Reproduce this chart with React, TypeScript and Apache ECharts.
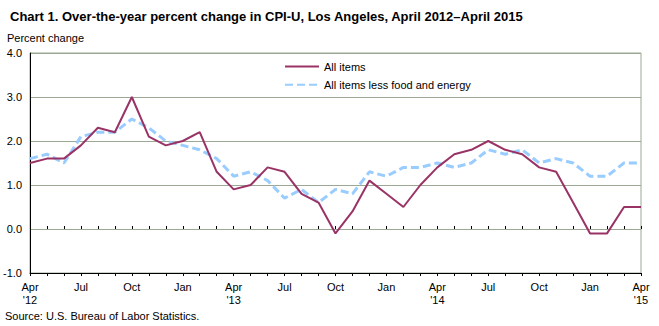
import React, { useEffect, useRef } from "react";
import * as echarts from "echarts";

const months: string[] = [
  "Apr\n'12", "May", "Jun", "Jul", "Aug", "Sep", "Oct", "Nov", "Dec", "Jan", "Feb", "Mar",
  "Apr\n'13", "May", "Jun", "Jul", "Aug", "Sep", "Oct", "Nov", "Dec", "Jan", "Feb", "Mar",
  "Apr\n'14", "May", "Jun", "Jul", "Aug", "Sep", "Oct", "Nov", "Dec", "Jan", "Feb", "Mar",
  "Apr\n'15",
];

const allItems: number[] = [
  1.5, 1.6, 1.6, 1.9, 2.3, 2.2, 3.0, 2.1, 1.9, 2.0, 2.2, 1.3,
  0.9, 1.0, 1.4, 1.3, 0.8, 0.6, -0.1, 0.4, 1.1, 0.8, 0.5, 1.0,
  1.4, 1.7, 1.8, 2.0, 1.8, 1.7, 1.4, 1.3, 0.6, -0.1, -0.1, 0.5,
  0.5,
];

const coreItems: number[] = [
  1.6, 1.7, 1.5, 2.1, 2.2, 2.2, 2.5, 2.3, 2.0, 1.9, 1.8, 1.6,
  1.2, 1.3, 1.1, 0.7, 0.9, 0.6, 0.9, 0.8, 1.3, 1.2, 1.4, 1.4,
  1.5, 1.4, 1.5, 1.8, 1.7, 1.8, 1.5, 1.6, 1.5, 1.2, 1.2, 1.5,
  1.5,
];

const seriesNames: string[] = ["All items", "All items less food and energy"];

const FONT = "'Liberation Sans', Arial, sans-serif";

export default function App() {
  const ref = useRef<HTMLDivElement>(null);
  useEffect(() => {
    document.body.style.margin = "0";
    if (!ref.current) return;
    const chart = echarts.init(ref.current, null, { renderer: "svg" });
    chart.setOption({
      animation: false,
      backgroundColor: "#ffffff",
      textStyle: { fontFamily: FONT },
      title: {
        text: "Chart 1. Over-the-year percent change in CPI-U, Los Angeles, April 2012\u2013April 2015",
        left: 5,
        top: 5,
        textStyle: { fontFamily: FONT, fontSize: 13, fontWeight: "bold", color: "#000" },
      },
      graphic: [
        {
          type: "text",
          left: 7,
          top: 32,
          style: { text: "Percent change", font: `11px ${FONT}`, fill: "#000" },
        },
        {
          type: "text",
          left: 5,
          top: 310,
          style: { text: "Source: U.S. Bureau of Labor Statistics.", font: `11px ${FONT}`, fill: "#000" },
        },
      ],
      legend: {
        left: 279,
        top: 56,
        orient: "vertical",
        itemWidth: 34,
        itemHeight: 14,
        itemGap: 7,
        itemStyle: { opacity: 0 },
        textStyle: { fontFamily: FONT, fontSize: 11, color: "#000" },
        data: seriesNames,
      },
      grid: {
        left: 30,
        right: 18,
        top: 53,
        bottom: 53,
        show: true,
        borderColor: "#9aa894",
        borderWidth: 1,
      },
      xAxis: [
        {
          type: "category",
          data: months,
          boundaryGap: false,
          axisLine: { show: true, onZero: false, lineStyle: { color: "#000", width: 1 } },
          axisTick: { show: true, interval: 0, inside: false, length: 3, lineStyle: { color: "#000" } },
          axisLabel: {
            interval: 2,
            fontSize: 11,
            lineHeight: 13,
            color: "#000",
            margin: 7,
            fontFamily: FONT,
          },
          splitLine: { show: false },
        },
        {
          type: "category",
          data: months,
          boundaryGap: false,
          position: "bottom",
          axisLine: { show: false },
          axisTick: { show: true, interval: 0, inside: true, length: 3, lineStyle: { color: "#000" } },
          axisLabel: { show: false },
          splitLine: { show: false },
        },
      ],
      yAxis: {
        type: "value",
        min: -1,
        max: 4,
        interval: 1,
        axisLine: { show: true, lineStyle: { color: "#000", width: 1 } },
        axisTick: { show: false },
        axisLabel: {
          formatter: (v: number) => v.toFixed(1),
          fontSize: 11,
          color: "#000",
          margin: 8,
          fontFamily: FONT,
        },
        splitLine: { show: true, lineStyle: { color: "#9aa894", width: 1 } },
      },
      series: [
        {
          name: seriesNames[0],
          type: "line",
          data: allItems,
          symbol: "none",
          lineStyle: { color: "#993366", width: 2 },
          itemStyle: { color: "#993366" },
          z: 3,
        },
        {
          name: seriesNames[1],
          type: "line",
          data: coreItems,
          symbol: "none",
          lineStyle: { color: "#99ccff", width: 3, type: [8, 4] },
          itemStyle: { color: "#99ccff" },
          z: 2,
        },
      ],
    });
    return () => chart.dispose();
  }, []);
  return <div ref={ref} style={{ width: 659, height: 326 }} />;
}
